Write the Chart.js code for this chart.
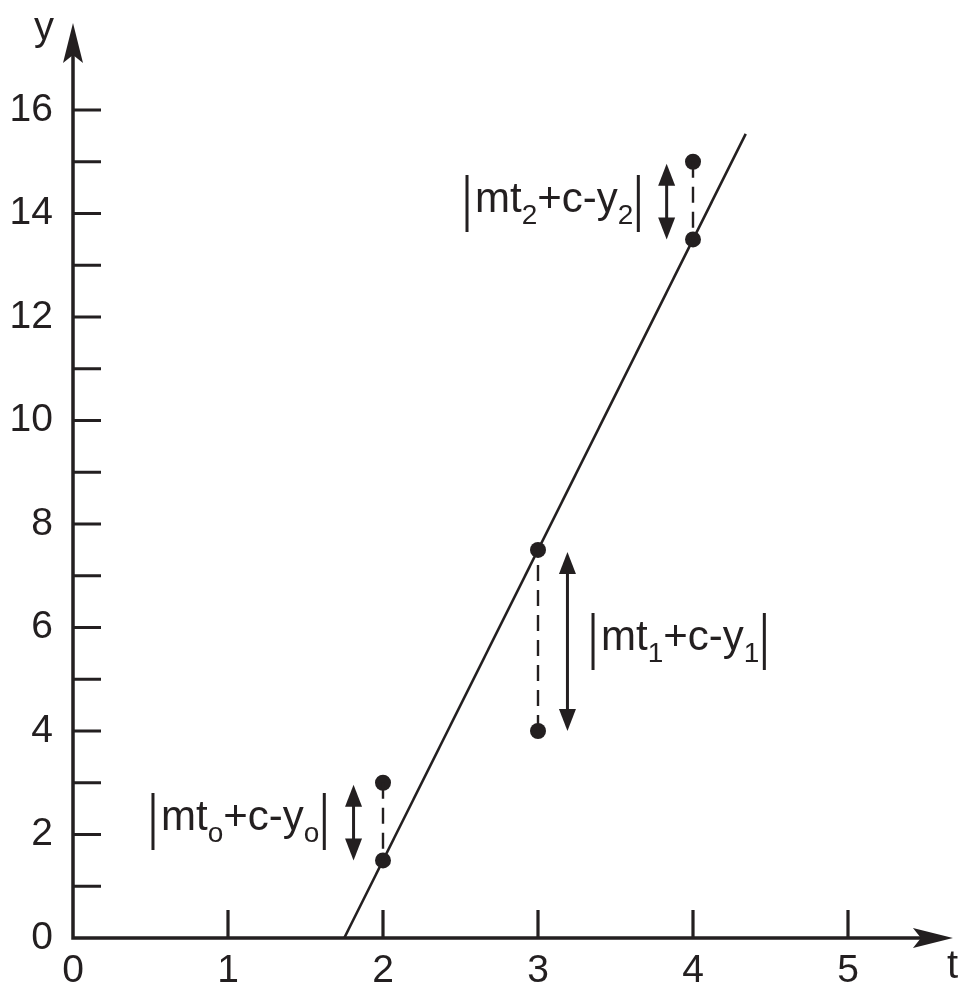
<!DOCTYPE html>
<html>
<head>
<meta charset="utf-8">
<script src="https://cdn.jsdelivr.net/npm/chart.js@4/dist/chart.umd.min.js"></script>
<style>
  html, body { margin: 0; padding: 0; background: #ffffff; }
  #wrap { width: 959px; height: 986px; }
</style>
</head>
<body>
<div id="wrap"><canvas id="c" width="959" height="986"></canvas></div>
<script>
// ---- data ----
const tValues   = [2, 3, 4];
const observedY = [3, 4, 15];
const fittedY   = [1.5, 7.5, 13.5];
const fitLineT  = [1.75, 4.34];
const fitLineY  = [0, 15.54];
const xTickLabels = ['0', '1', '2', '3', '4', '5'];
const yTickLabels = ['0', '2', '4', '6', '8', '10', '12', '14', '16'];
const residualSubs = ['o', '1', '2'];
const axisNames = ['t', 'y'];

// ---- derived structures ----
const observedPts = tValues.map((t, i) => ({ x: t, y: observedY[i] }));
const fittedPts   = tValues.map((t, i) => ({ x: t, y: fittedY[i] }));
const fitPts      = fitLineT.map((t, i) => ({ x: t, y: fitLineY[i] }));
const residualPts = [];
tValues.forEach((t, i) => {
  if (i > 0) residualPts.push({ x: t - 0.5, y: null });
  residualPts.push({ x: t, y: observedY[i] });
  residualPts.push({ x: t, y: fittedY[i] });
});

const INK = '#231f20';
const FONT = '"Liberation Sans", Arial, Helvetica, sans-serif';

// annotation layout (positions in data units)
const annot = {
  arrowT: [1.81, 3.19, 3.83],
  labelT: [0.516, 3.355, 2.542],
  labelY: [2.087, 5.565, 14.03],
  yAxisTop: 17.68,
  xAxisEnd: 5.677
};

function arrowHead(ctx, tipX, tipY, dx, dy, len, half, notch) {
  const bx = tipX - dx * len, by = tipY - dy * len;
  const px = -dy, py = dx;
  const nx = tipX - dx * (len - notch), ny = tipY - dy * (len - notch);
  ctx.beginPath();
  ctx.moveTo(tipX, tipY);
  ctx.lineTo(bx + px * half, by + py * half);
  ctx.lineTo(nx, ny);
  ctx.lineTo(bx - px * half, by - py * half);
  ctx.closePath();
  ctx.fill();
}

const drawPlugin = {
  id: 'sketch',
  beforeDatasetsDraw(chart) {
    const ctx = chart.ctx;
    const xs = chart.scales.x, ys = chart.scales.y;
    const x0 = xs.getPixelForValue(0), y0 = ys.getPixelForValue(0);
    const yTop = ys.getPixelForValue(annot.yAxisTop);
    const xEnd = xs.getPixelForValue(annot.xAxisEnd);
    ctx.save();
    ctx.strokeStyle = INK; ctx.fillStyle = INK;
    ctx.lineWidth = 3.5; ctx.lineCap = 'butt';
    // axes
    ctx.beginPath();
    ctx.moveTo(x0, y0 + 1.75); ctx.lineTo(x0, yTop + 30);
    ctx.moveTo(x0 - 1.75, y0); ctx.lineTo(xEnd - 30, y0);
    ctx.stroke();
    arrowHead(ctx, x0, yTop, 0, -1, 40, 10, 8);
    arrowHead(ctx, xEnd, y0, 1, 0, 40, 10, 8);
    // inward tick marks
    ctx.lineWidth = 3.2;
    ctx.beginPath();
    ys.ticks.forEach(tk => {
      if (tk.value === 0) return;
      const p = ys.getPixelForValue(tk.value);
      ctx.moveTo(x0, p); ctx.lineTo(x0 + 28, p);
    });
    xs.ticks.forEach(tk => {
      if (tk.value === 0) return;
      const p = xs.getPixelForValue(tk.value);
      ctx.moveTo(p, y0); ctx.lineTo(p, y0 - 28);
    });
    ctx.stroke();
    // axis names
    ctx.font = '40px ' + FONT;
    ctx.textAlign = 'center'; ctx.textBaseline = 'middle';
    ctx.fillText(axisNames[1], x0 - 29, yTop + 6);
    ctx.textAlign = 'left';
    ctx.fillText(axisNames[0], xEnd - 6, y0 + 29);
    ctx.restore();
  },
  afterDatasetsDraw(chart) {
    const ctx = chart.ctx;
    const xs = chart.scales.x, ys = chart.scales.y;
    ctx.save();
    ctx.strokeStyle = INK; ctx.fillStyle = INK;
    // double-headed residual arrows
    tValues.forEach((t, i) => {
      const ax = xs.getPixelForValue(annot.arrowT[i]);
      const hi = Math.max(observedY[i], fittedY[i]);
      const lo = Math.min(observedY[i], fittedY[i]);
      const pTop = ys.getPixelForValue(hi) + 2;
      const pBot = ys.getPixelForValue(lo);
      ctx.lineWidth = 3;
      ctx.beginPath();
      ctx.moveTo(ax, pTop + 15); ctx.lineTo(ax, pBot - 15);
      ctx.stroke();
      arrowHead(ctx, ax, pTop, 0, -1, 22, 8.5, 0);
      arrowHead(ctx, ax, pBot, 0, 1, 22, 8.5, 0);
    });
    // |mt_i + c - y_i| labels
    const mainF = '42px ' + FONT, subF = '28px ' + FONT;
    ctx.textAlign = 'left'; ctx.textBaseline = 'alphabetic';
    residualSubs.forEach((s, i) => {
      const lx = xs.getPixelForValue(annot.labelT[i]);
      const base = ys.getPixelForValue(annot.labelY[i]);
      ctx.lineWidth = 3;
      ctx.beginPath();
      ctx.moveTo(lx, base - 37); ctx.lineTo(lx, base + 20);
      let cx = lx + 8;
      ctx.font = mainF; ctx.fillText('mt', cx, base); cx += ctx.measureText('mt').width;
      ctx.font = subF;  ctx.fillText(s, cx, base + 12); cx += ctx.measureText(s).width;
      ctx.font = mainF; ctx.fillText('+c-y', cx, base); cx += ctx.measureText('+c-y').width;
      ctx.font = subF;  ctx.fillText(s, cx, base + 12); cx += ctx.measureText(s).width;
      cx += 5;
      ctx.moveTo(cx, base - 37); ctx.lineTo(cx, base + 20);
      ctx.stroke();
    });
    ctx.restore();
  }
};

new Chart(document.getElementById('c'), {
  type: 'scatter',
  data: {
    datasets: [
      {
        label: 'residual',
        data: residualPts,
        showLine: true,
        spanGaps: false,
        borderColor: INK,
        borderWidth: 2.4,
        borderDash: [16, 9],
        pointRadius: 0,
        clip: false
      },
      {
        label: 'fit',
        data: fitPts,
        showLine: true,
        borderColor: INK,
        borderWidth: 2.6,
        pointRadius: 0,
        clip: false
      },
      {
        label: 'observed',
        data: observedPts,
        pointRadius: 8,
        pointBackgroundColor: INK,
        pointBorderWidth: 0,
        clip: false
      },
      {
        label: 'fitted',
        data: fittedPts,
        pointRadius: 8,
        pointBackgroundColor: INK,
        pointBorderWidth: 0,
        clip: false
      }
    ]
  },
  options: {
    responsive: false,
    animation: false,
    devicePixelRatio: 1,
    layout: { padding: { left: 0, right: 111, top: 110, bottom: 0 } },
    plugins: {
      legend: { display: false },
      tooltip: { enabled: false },
      title: { display: false }
    },
    scales: {
      x: {
        type: 'linear',
        min: 0, max: 5,
        afterFit: s => { s.height = 48; },
        grid: { display: false, drawTicks: false },
        border: { display: false },
        ticks: {
          stepSize: 1,
          padding: 10,
          color: INK,
          font: { family: FONT, size: 39 },
          callback: (v) => xTickLabels[v] !== undefined ? xTickLabels[v] : ''
        }
      },
      y: {
        type: 'linear',
        min: 0, max: 16,
        afterFit: s => { s.width = 73; },
        grid: { display: false, drawTicks: false },
        border: { display: false },
        ticks: {
          stepSize: 1,
          padding: 20,
          color: INK,
          font: { family: FONT, size: 39 },
          callback: (v) => (v % 2 === 0 ? yTickLabels[v / 2] : '')
        }
      }
    }
  },
  plugins: [drawPlugin]
});
</script>
</body>
</html>
